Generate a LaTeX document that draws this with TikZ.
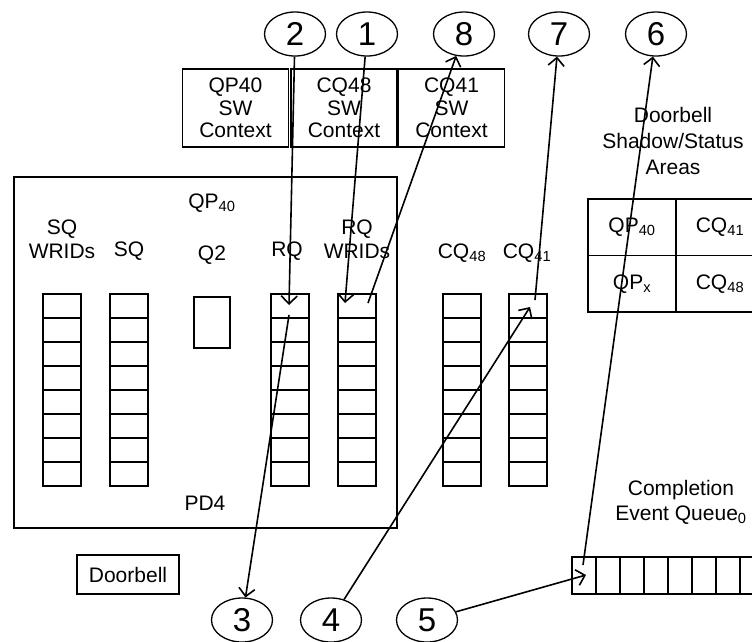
\documentclass[tikz,border=0pt]{standalone}
\usepackage{fontspec}
\setmainfont{Liberation Sans}
\usetikzlibrary{shapes.geometric,arrows.meta}
\newcommand\lowsub[1]{\textsubscript{#1}}
\begin{document}
\begin{tikzpicture}[x=1pt,y=-1pt,
  txt/.style={font=\fontsize{21}{24}\selectfont, inner sep=0pt, align=center},
  num/.style={draw, ellipse, line width=1.3pt, minimum width=61pt, minimum height=44pt, inner sep=0pt, font=\fontsize{33}{34}\selectfont},
  cell/.style={draw, line width=1.1pt, minimum width=38pt, minimum height=24pt, inner sep=0pt, outer sep=0pt},
  qcell/.style={draw, line width=1.1pt, minimum width=24pt, minimum height=37pt, inner sep=0pt, outer sep=0pt},
  ctx/.style={draw, line width=1.4pt, minimum width=106pt, minimum height=78pt, inner sep=0pt, align=center, font=\fontsize{21}{22.5}\selectfont},
  shcell/.style={draw, line width=1.2pt, minimum width=88pt, minimum height=56.5pt, inner sep=0pt, font=\fontsize{21}{24}\selectfont},
  arr/.style={line width=1.6pt, -{Straight Barb[length=8pt,width=16pt,line width=1.6pt]}}
]
\useasboundingbox (0,0) rectangle (752,641);
\clip (0,0) rectangle (752,641);

% numbered ellipses
\node[num] (c2) at (295,34) {2};
\node[num] (c1) at (367,34) {1};
\node[num] (c8) at (464,34) {8};
\node[num] (c7) at (559,34) {7};
\node[num] (c6) at (656,34) {6};
\node[num] (c3) at (242,620) {3};
\node[num] (c4) at (331,620) {4};
\node[num] (c5) at (427,620) {5};

% SW context boxes
\node[ctx] (ctx1) at (235.5,108) {QP40\\SW\\Context};
\node[ctx] (ctx2) at (344,108) {CQ48\\SW\\Context};
\node[ctx] (ctx3) at (451.5,108) {CQ41\\SW\\Context};

% PD box
\node[draw, line width=1.8pt, minimum width=383pt, minimum height=351pt, inner sep=0pt] (pd) at (205.5,352.5) {};
\node[txt] (qplabel) at (212,203) {QP\lowsub{40}};
\node[txt] (sqwlabel) at (62,239) {SQ\\WRIDs};
\node[txt] (sqlabel) at (129,251) {SQ};
\node[txt] (q2label) at (212,255) {Q2};
\node[txt] (rqlabel) at (287,251) {RQ};
\node[txt] (rqwlabel) at (357,239) {RQ\\WRIDs};
\node[txt] (pdlabel) at (205,503) {PD4};
\node[txt] (cq48label) at (462,253) {CQ\lowsub{48}};
\node[txt] (cq41label) at (527,253) {CQ\lowsub{41}};

% stacks
\foreach \nm/\x in {sqw/62, sq/129, rq/290, rqw/357, cqa/462, cqb/528} {
  \foreach \i in {1,...,8} {
    \node[cell] (\nm-\i) at (\x,{282+24*\i}) {};
  }
}
\node[draw, line width=1.1pt, minimum width=36pt, minimum height=51pt, inner sep=0pt] (q2box) at (212,322.5) {};

% Doorbell
\node[draw, line width=1.1pt, minimum width=102pt, minimum height=39pt, txt] (db) at (128,574.5) {Doorbell};

% Doorbell shadow/status areas
\node[txt, font=\fontsize{21}{26}\selectfont] (dbslabel) at (673,141) {Doorbell\\Shadow/Status\\Areas};
\node[shcell] (sh1) at (632,227.25) {QP\lowsub{40}};
\node[shcell] (sh2) at (720,227.25) {CQ\lowsub{41}};
\node[shcell] (sh3) at (632,283.75) {QP\lowsub{x}};
\node[shcell] (sh4) at (720,283.75) {CQ\lowsub{48}};

% Completion event queue
\node[txt, font=\fontsize{21}{25}\selectfont] (ceqlabel) at (681,502) {Completion\\Event Queue\lowsub{0}};
\foreach \i in {1,...,8} {
  \node[qcell] (q\i) at ({572+24*(\i-0.5)},575.5) {};
}

% arrow end points inside cells
\coordinate (rqin) at (289,305);
\coordinate (rqout) at (289,315);
\coordinate (rqwin) at (345,303);
\coordinate (rqwout) at (368,303);
\coordinate (cqbin) at (530,307);
\coordinate (cqbout) at (535,300);
\coordinate (qin) at (586,575);
\coordinate (qout) at (583,565);

% arrows
\draw[arr] (c2) -- (rqin);
\draw[arr] (c1) -- (rqwin);
\draw[arr] (rqout) -- (c3);
\draw[arr] (c4) -- (cqbin);
\draw[arr] (c5) -- (qin);
\draw[arr] (qout) -- (c6);
\draw[arr] (cqbout) -- (c7);
\draw[arr] (rqwout) -- (c8);
\end{tikzpicture}
\end{document}
